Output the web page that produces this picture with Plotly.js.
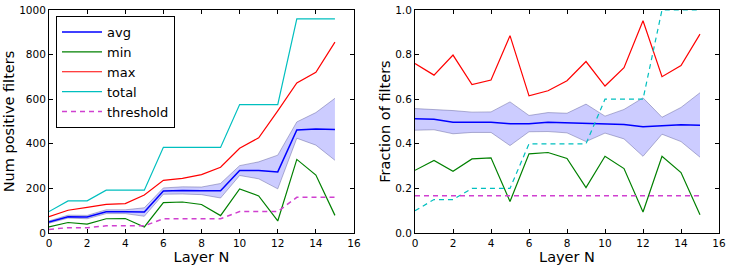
<!DOCTYPE html>
<html>
<head>
<meta charset="utf-8">
<script src="https://cdn.plot.ly/plotly-3.0.1.min.js"></script>
<style>html,body{margin:0;padding:0;background:#fff;}#chart{width:731px;height:268px;}</style>
</head>
<body>
<div id="chart"></div>
<script>
// ---- data ----
var layerN = [0,1,2,3,4,5,6,7,8,9,10,11,12,13,14,15];
// left panel: counts
var countAvg   = [49,73,72,95,95,94,188,191,190,189,280,280,274,462,466,464];
var countUpper = [54,80,79,104,104,113,202,207,206,222,302,319,349,498,540,604];
var countLower = [44,67,64,87,87,75,174,175,172,157,258,243,198,425,394,326];
var countMin   = [27,47,40,64,65,27,136,139,128,78,198,166,54,330,260,79];
var countMax   = [73,102,115,128,132,170,236,245,262,295,380,427,548,673,721,856];
var countTotal = [96,144,144,192,192,192,384,384,384,384,576,576,576,960,960,960];
var countThreshold = [16,24,24,32,32,32,64,64,64,64,96,96,96,160,160,160];
// right panel: fractions
var fracAvg   = [0.512,0.510,0.497,0.497,0.497,0.490,0.490,0.497,0.494,0.4925,0.487,0.487,0.476,0.481,0.485,0.4835];
var fracUpper = [0.558,0.555,0.549,0.542,0.543,0.588,0.527,0.540,0.537,0.578,0.524,0.554,0.606,0.519,0.563,0.629];
var fracLower = [0.461,0.463,0.445,0.451,0.451,0.392,0.454,0.455,0.449,0.410,0.448,0.422,0.344,0.443,0.410,0.340];
var fracMin   = [0.281,0.325,0.277,0.332,0.337,0.141,0.355,0.361,0.334,0.204,0.344,0.289,0.094,0.344,0.271,0.082];
var fracMax   = [0.760,0.708,0.798,0.666,0.686,0.885,0.615,0.638,0.683,0.769,0.659,0.741,0.952,0.701,0.751,0.892];
var fracTotal = [0.1,0.15,0.15,0.2,0.2,0.2,0.4,0.4,0.4,0.4,0.6,0.6,0.6,1,1,1];
var fracThreshold = [0.1667,0.1667,0.1667,0.1667,0.1667,0.1667,0.1667,0.1667,0.1667,0.1667,0.1667,0.1667,0.1667,0.1667,0.1667,0.1667];
var xTicks = [0,2,4,6,8,10,12,14,16];

// ---- styles ----
var C = {b:'#0000ff', g:'#008000', r:'#ff0000', c:'#00bfbf', m:'#d040d0'};
var bandFill = 'rgba(0,0,255,0.2)';
var bandEdge = 'rgba(90,90,150,0.45)';

function panel(xa, ya, avg, up, lo, mn, mx, tot, thr, showLeg, totDash) {
  return [
    {x:layerN, y:lo, xaxis:xa, yaxis:ya, mode:'lines', line:{color:bandEdge, width:1}, showlegend:false, hoverinfo:'skip'},
    {x:layerN, y:up, xaxis:xa, yaxis:ya, mode:'lines', line:{color:bandEdge, width:1}, fill:'tonexty', fillcolor:bandFill, showlegend:false, hoverinfo:'skip'},
    {x:layerN, y:avg, xaxis:xa, yaxis:ya, mode:'lines', name:'avg', line:{color:C.b, width:1.5}, showlegend:showLeg},
    {x:layerN, y:mn, xaxis:xa, yaxis:ya, mode:'lines', name:'min', line:{color:C.g, width:1.2}, showlegend:showLeg},
    {x:layerN, y:mx, xaxis:xa, yaxis:ya, mode:'lines', name:'max', line:{color:C.r, width:1.2}, showlegend:showLeg},
    {x:layerN, y:tot, xaxis:xa, yaxis:ya, mode:'lines', name:'total', line:{color:C.c, width:1.2, dash:totDash}, showlegend:showLeg},
    {x:layerN, y:thr, xaxis:xa, yaxis:ya, mode:'lines', name:'threshold', line:{color:C.m, width:1.5, dash:'5px,4px'}, showlegend:showLeg}
  ];
}

var data = panel('x','y',countAvg,countUpper,countLower,countMin,countMax,countTotal,countThreshold,true,'solid')
  .concat(panel('x2','y2',fracAvg,fracUpper,fracLower,fracMin,fracMax,fracTotal,fracThreshold,false,'5px,4px'));

var W = 731, H = 268;
var FF = 'DejaVu Sans, sans-serif';
function ax(extra) {
  var a = {showline:true, linecolor:'#000', linewidth:1, mirror:'ticks', ticks:'inside', ticklen:4, tickwidth:1, tickcolor:'#000',
           showgrid:false, zeroline:false, tickfont:{family:FF, size:10.5, color:'#000'}};
  for (var k in extra) a[k] = extra[k];
  return a;
}
var titleFont = {family:FF, size:14.5, color:'#000'};
var yDom = [(H-233)/H, (H-10)/H];
var layout = {
  width:W, height:H, margin:{l:0,r:0,t:0,b:0}, paper_bgcolor:'#fff', plot_bgcolor:'#fff', font:{family:FF, size:10, color:'#000'},
  xaxis: ax({domain:[49/W, 354/W], range:[0,16], tickvals:xTicks, anchor:'y', title:{text:'Layer N', font:titleFont, standoff:2}}),
  yaxis: ax({domain:yDom, range:[0,1000], tickvals:[0,200,400,600,800,1000], anchor:'x', title:{text:'Num positive filters', font:titleFont, standoff:1}}),
  xaxis2: ax({domain:[415/W, 719/W], range:[0,16], tickvals:xTicks, anchor:'y2', title:{text:'Layer N', font:titleFont, standoff:2}}),
  yaxis2: ax({domain:yDom, range:[0,1], tickvals:[0,0.2,0.4,0.6,0.8,1.0], tickformat:'.1f', anchor:'x2', title:{text:'Fraction of filters', font:titleFont, standoff:1}}),
  legend:{x:56/W, y:(H-16)/H, xanchor:'left', yanchor:'top', bgcolor:'#fff', bordercolor:'#000', borderwidth:1,
          font:{family:FF, size:13, color:'#000'}, traceorder:'normal', tracegroupgap:0, itemwidth:40},
  showlegend:true
};
Plotly.newPlot('chart', data, layout, {staticPlot:true});
</script>
</body>
</html>
